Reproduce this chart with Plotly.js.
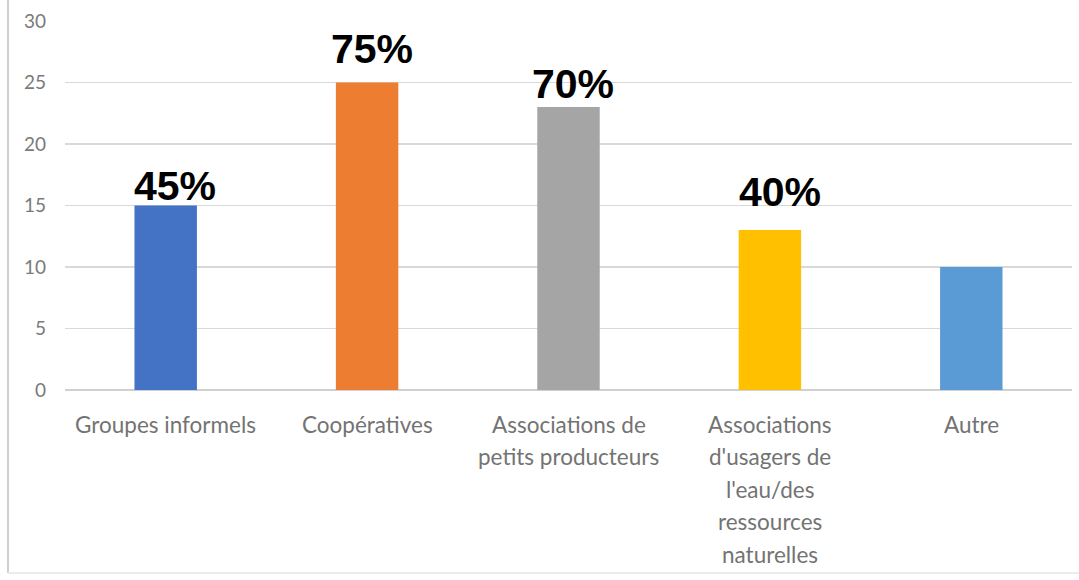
<!DOCTYPE html>
<html>
<head>
<meta charset="utf-8">
<script src="https://cdn.plot.ly/plotly-3.0.1.min.js"></script>
<style>html,body{margin:0;padding:0;background:#fff;}#chart{width:1079px;height:580px;}</style>
</head>
<body>
<div id="chart"></div>
<script>
const categories = ['Groupes informels', 'Coopératives', 'Associations de petits producteurs', "Associations d'usagers de l'eau/des ressources naturelles", 'Autre'];
const labelLines = [
  ['Groupes informels'],
  ['Coopératives'],
  ['Associations de', 'petits producteurs'],
  ['Associations', "d'usagers de", "l'eau/des", 'ressources', 'naturelles'],
  ['Autre']
];
const values = [15, 25, 23, 13, 10];
const pctLabels = ['45%', '75%', '70%', '40%', ''];
const yTicks = [0, 5, 10, 15, 20, 25, 30];

const barColors = ['#4472C4', '#ED7D31', '#A5A5A5', '#FFC000', '#5B9BD5'];
const pctShift = [[9, -5], [5, 9], [4, -2], [10, 13], [0, 0]];

const annotations = [];
pctLabels.forEach((t, i) => {
  if (!t) return;
  annotations.push({
    x: categories[i], y: values[i], xref: 'x', yref: 'y',
    text: t, showarrow: false, xanchor: 'center', yanchor: 'bottom',
    xshift: pctShift[i][0], yshift: pctShift[i][1],
    font: {family: 'Liberation Sans, Arial, sans-serif', size: 41, color: '#000', weight: 'bold'}
  });
});
labelLines.forEach((lines, i) => {
  lines.forEach((ln, j) => {
    annotations.push({
      x: categories[i], y: 0, xref: 'x', yref: 'paper',
      text: ln, showarrow: false, xanchor: 'center', yanchor: 'middle',
      yshift: -(34 + j * 32.5),
      font: {family: 'Lato, sans-serif', size: 22.5, color: '#737373'}
    });
  });
});

const data = [{
  type: 'bar', x: categories, y: values,
  marker: {color: barColors},
  hoverinfo: 'none'
}];

const layout = {
  width: 1079, height: 580,
  margin: {l: 65, r: 7, t: 21, b: 190},
  paper_bgcolor: '#fff', plot_bgcolor: '#fff',
  bargap: 0.69,
  showlegend: false,
  xaxis: {showticklabels: false, showgrid: false, zeroline: false, showline: false, ticks: ''},
  yaxis: {
    range: [0, 30], tickvals: yTicks, ticktext: yTicks.map(String),
    showgrid: true, gridcolor: '#d9d9d9', gridwidth: 1.5,
    zeroline: true, zerolinecolor: '#d0d0d0', zerolinewidth: 1.5,
    showline: false, ticks: '', ticklabelstandoff: 18,
    tickfont: {family: 'Lato, sans-serif', size: 19, color: '#7a7a7a'}
  },
  annotations: annotations,
  shapes: [
    {type: 'line', xref: 'paper', yref: 'paper', x0: -0.0566, x1: -0.0566, y0: -0.496, y1: 1.06, line: {color: '#cfcfcf', width: 2}},
    {type: 'line', xref: 'paper', yref: 'paper', x0: -0.0566, x1: 1.01, y0: -0.496, y1: -0.496, line: {color: '#e6e6e6', width: 1.5}}
  ]
};

Plotly.newPlot('chart', data, layout, {displayModeBar: false, staticPlot: true});
</script>
</body>
</html>
